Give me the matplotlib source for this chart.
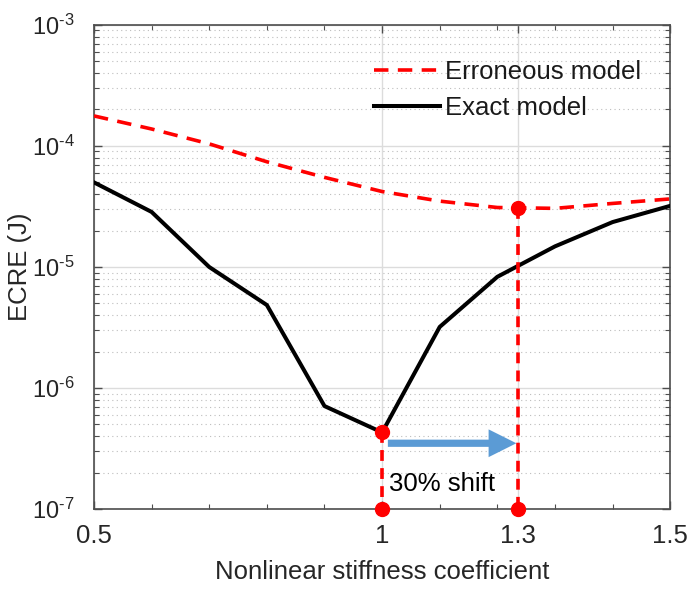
import numpy as np
import matplotlib.pyplot as plt
from matplotlib.ticker import LogLocator, FixedLocator, NullFormatter

plt.rcParams['font.family'] = ['Liberation Sans', 'DejaVu Sans']
plt.rcParams['mathtext.fontset'] = 'custom'
plt.rcParams['mathtext.rm'] = 'Liberation Sans'

# stiffness coefficient sweep
coef = [0.5, 0.6, 0.7, 0.8, 0.9, 1.0, 1.1, 1.2, 1.3, 1.4, 1.5]
ecre_exact = [5.0e-5, 2.85e-5, 1.0e-5, 4.85e-6, 7.1e-7, 4.3e-7, 3.2e-6, 8.3e-6, 1.48e-5, 2.35e-5, 3.2e-5]
ecre_err = [1.77e-4, 1.38e-4, 1.04e-4, 7.4e-5, 5.5e-5, 4.2e-5, 3.5e-5, 3.1e-5, 3.05e-5, 3.35e-5, 3.65e-5]

# minima of the two models
true_coef, true_min = 1.0, 4.3e-7
shift_coef, shift_min = 1.235, 3.05e-5
arrow_y = 3.5e-7
y_floor = 1e-7

xtick_pos = [0.5, 1.0, shift_coef, 1.5]
xtick_lab = ['0.5', '1', '1.3', '1.5']
ytick_exp = [7, 6, 5, 4, 3]

red = '#ff0000'
fs = 18.5

fig = plt.figure(figsize=(6.96, 5.92), dpi=100)
ax = fig.add_axes([0.135, 0.140, 0.828, 0.818])

ax.plot(coef, ecre_err, color=red, lw=2.6, dashes=(4, 2.6), label='Erroneous model', zorder=4)
ax.plot(coef, ecre_exact, color='black', lw=2.9, label='Exact model', zorder=4)

# vertical markers down to the axis
ax.plot([true_coef, true_coef], [true_min, y_floor], color=red, lw=2.6, dashes=(3, 2),
        marker='o', ms=10, clip_on=False, zorder=5)
ax.plot([shift_coef, shift_coef], [shift_min, y_floor], color=red, lw=2.6, dashes=(3, 2),
        marker='o', ms=10, clip_on=False, zorder=5)

ax.annotate('', xy=(shift_coef - 0.002, arrow_y), xytext=(true_coef + 0.01, arrow_y),
            arrowprops=dict(arrowstyle='simple,head_length=1.0,head_width=1.0,tail_width=0.26',
                            color='#5b9bd5', lw=0, shrinkA=0, shrinkB=0, mutation_scale=20),
            zorder=6)
ax.text(true_coef + 0.012, 1.6e-7, '30% shift', fontsize=fs, va='center', ha='left', zorder=6)

ax.set_yscale('log')
ax.set_xlim(0.5, 1.5)
ax.set_ylim(1e-7, 1e-3)

ax.xaxis.set_major_locator(FixedLocator(xtick_pos))
ax.set_xticklabels(xtick_lab)
ax.xaxis.set_minor_locator(FixedLocator(np.arange(0.5, 1.51, 0.1)))
ax.yaxis.set_minor_locator(LogLocator(base=10, subs=np.arange(2, 10), numticks=20))
ax.yaxis.set_minor_formatter(NullFormatter())
ax.set_yticks([10.0 ** -k for k in ytick_exp])
ax.set_yticklabels([r'$\mathregular{10^{\text{-}%d}}$' % k for k in ytick_exp])

ax.tick_params(which='both', direction='in', top=True, right=True, colors='#4d4d4d',
               labelcolor='#262626')
ax.tick_params(which='major', length=6, width=1)
ax.tick_params(axis='x', which='major', pad=11, labelsize=fs)
ax.tick_params(axis='y', which='major', pad=14, labelsize=17)
ax.tick_params(which='minor', length=3.5, width=0.8)
for s in ax.spines.values():
    s.set_color('#4d4d4d')
    s.set_linewidth(1.2)

ax.grid(which='major', color='#dcdcdc', lw=1, ls='-')
ax.yaxis.grid(which='minor', color='#bdbdbd', lw=0.8, ls=(0, (1, 3)))
ax.set_axisbelow(True)

ax.set_xlabel('Nonlinear stiffness coefficient', fontsize=fs, color='#262626', labelpad=8)
ax.set_ylabel('ECRE (J)', fontsize=fs, color='#262626', va='center')
ax.yaxis.set_label_coords(-0.128, 0.5)

leg = ax.legend(loc='upper left', bbox_to_anchor=(0.445, 0.976), frameon=False, fontsize=fs,
                handlelength=2.6, handletextpad=0.2, labelspacing=0.5)
for t in leg.get_texts():
    t.set_color('#1a1a1a')

fig.savefig('out.png', dpi=100)
